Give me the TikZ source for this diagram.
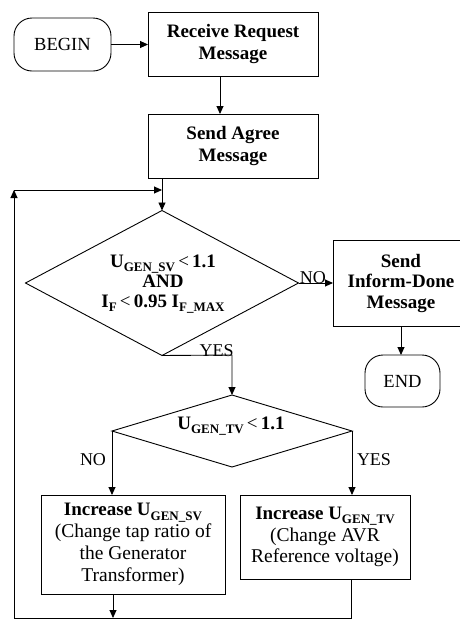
\documentclass[tikz,border=0pt]{standalone}
\usepackage{fontspec}
\setmainfont{Liberation Serif}
\usetikzlibrary{shapes.geometric,arrows.meta}
\newcommand{\mysub}[1]{\raisebox{-0.22em}{\fontsize{13}{13}\selectfont #1}}
\begin{document}
\begin{tikzpicture}[x=1pt,y=-1pt,
  line width=0.9pt,
  arr/.style={-{Triangle[length=8pt,width=7pt]}},
  box/.style={draw, rectangle, inner sep=0pt, outer sep=0pt, align=center},
  term/.style={draw, rectangle, rounded corners=18pt, inner sep=0pt, outer sep=0pt},
  dec/.style={draw, diamond, inner sep=0pt, outer sep=0pt},
  bt/.style={font=\fontsize{19}{21.5}\selectfont\bfseries},
  dt/.style={font=\fontsize{19}{20}\selectfont\bfseries, align=center, inner sep=0pt},
  rt/.style={font=\fontsize{19.5}{21.8}\selectfont},
  lab/.style={font=\fontsize{18}{18}\selectfont, inner sep=0pt}]
\useasboundingbox (0,0) rectangle (460,619);
\clip (0,0) rectangle (460,619);
% nodes
\node[term, minimum width=97pt, minimum height=53pt, font=\fontsize{18.5}{18.5}\selectfont] (begin) at (62.5,44.5) {BEGIN};
\node[box, minimum width=170pt, minimum height=64pt, bt] (recv) at (233,44) {Receive Request\\Message};
\node[box, minimum width=170pt, minimum height=64pt, bt] (agree) at (233,146) {Send Agree\\Message};
\node[dec, minimum width=273pt, minimum height=145pt] (d1) at (162,283) {};
\node[dt] (d1t) at (163,284) {U\mysub{GEN\_SV}\,\textmd{<}\,1.1\\AND\\I\mysub{F}\,\textmd{<}\,0.95 I\mysub{F\_MAX}};
\node[box, minimum width=136pt, minimum height=86pt, font=\fontsize{19}{20.5}\selectfont\bfseries] (inform) at (401,283) {Send\\Inform-Done\\Message};
\node[term, minimum width=75pt, minimum height=52pt, font=\fontsize{18.5}{18.5}\selectfont] (end) at (402.5,381) {END};
\node[dec, minimum width=240pt, minimum height=72pt] (d2) at (232,431) {};
\node[dt] (d2t) at (231,426) {U\mysub{GEN\_TV}\,\textmd{<}\,1.1};
\node[box, minimum width=184pt, minimum height=99pt, rt] (lb) at (133,544.5) {{\fontsize{19}{21.5}\selectfont\bfseries Increase U\mysub{GEN\_SV}}\\(Change tap ratio of\\the Generator\\Transformer)};
\node[box, minimum width=170pt, minimum height=84pt, rt] (rb) at (325,537) {{\fontsize{19}{21.5}\selectfont\bfseries Increase U\mysub{GEN\_TV}}\\(Change AVR\\Reference voltage)};
% helper coordinates
\coordinate (bl) at (14,618);
\coordinate (tl) at (14,190);
\coordinate (jn) at (162,190);
\coordinate (yc) at (232,355);
% connectors
\draw[arr] (begin.east) -- (begin.east -| recv.west);
\draw[arr] ([xshift=-13pt]recv.south) -- ([xshift=-13pt]agree.north);
\draw[arr] (agree.south -| d1.north) -- (d1.north);
\draw[arr] (d1.east) -- (d1.east -| inform.west);
\node[lab, anchor=south west] at ([xshift=1pt,yshift=-1pt]d1.east) {NO};
\draw[arr] (inform.south) -- (inform.south |- end.north);
\draw[arr] (d1.south) -- (yc) -- (d2.north);
\node[lab, anchor=south east] at ([xshift=2pt,yshift=-2pt]yc) {YES};
\draw[arr] (d2.west) -- (d2.west |- lb.north);
\node[lab] at (93,460) {NO};
\draw[arr] (d2.east) -- (d2.east |- rb.north);
\node[lab] at (374,460) {YES};
\draw[arr] ([xshift=-20pt]lb.south) -- ([xshift=-20pt]lb.south |- bl);
\draw[arr] ([xshift=26pt]rb.south) |- (bl) -- (tl);
\draw[arr] (tl) -- (jn);
\end{tikzpicture}
\end{document}
